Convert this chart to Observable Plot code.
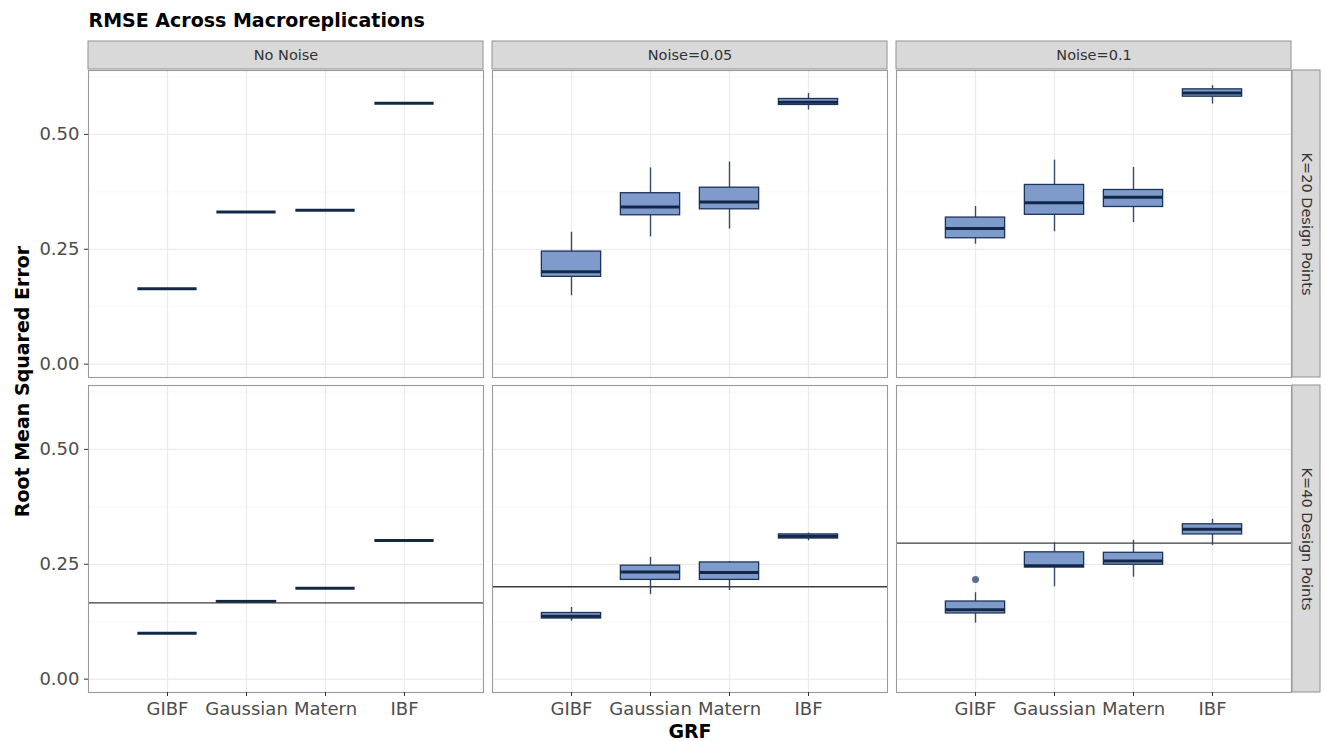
<!DOCTYPE html>
<html>
<head>
<meta charset="utf-8">
<script src="https://cdn.jsdelivr.net/npm/d3@7"></script>
<script src="https://cdn.jsdelivr.net/npm/@observablehq/plot@0.6"></script>
<style>
  html, body { margin: 0; padding: 0; background: #fff; overflow: hidden; }
</style>
</head>
<body>
<div id="chart"></div>
<script>
// ---- data ----
const title = "RMSE Across Macroreplications";
const yTitle = "Root Mean Squared Error";
const xTitle = "GRF";
const noises = ["No Noise", "Noise=0.05", "Noise=0.1"];
const designs = ["K=20 Design Points", "K=40 Design Points"];
const methods = ["GIBF", "Gaussian", "Matern", "IBF"];
const yTicks = [0, 0.25, 0.5];
const yMinor = [0.125, 0.375, 0.625];

// order: design -> noise -> method
const whiskerLow = [
  0.164, 0.331, 0.335, 0.568,   0.149, 0.277, 0.294, 0.553,   0.261, 0.288, 0.308, 0.566,
  0.100, 0.168, 0.198, 0.302,   0.126, 0.184, 0.193, 0.301,   0.122, 0.201, 0.222, 0.291
];
const q1 = [
  0.164, 0.331, 0.335, 0.568,   0.190, 0.324, 0.337, 0.564,   0.274, 0.325, 0.342, 0.582,
  0.100, 0.168, 0.198, 0.302,   0.132, 0.216, 0.216, 0.306,   0.143, 0.243, 0.249, 0.315
];
const median = [
  0.164, 0.331, 0.335, 0.568,   0.201, 0.342, 0.353, 0.570,   0.295, 0.351, 0.363, 0.590,
  0.100, 0.169, 0.198, 0.302,   0.137, 0.233, 0.232, 0.311,   0.151, 0.247, 0.257, 0.326
];
const q3 = [
  0.164, 0.331, 0.335, 0.568,   0.245, 0.372, 0.384, 0.577,   0.319, 0.390, 0.379, 0.598,
  0.100, 0.170, 0.198, 0.302,   0.144, 0.247, 0.254, 0.315,   0.169, 0.276, 0.275, 0.337
];
const whiskerHigh = [
  0.164, 0.331, 0.335, 0.568,   0.287, 0.427, 0.440, 0.589,   0.343, 0.444, 0.428, 0.606,
  0.100, 0.170, 0.198, 0.302,   0.156, 0.265, 0.256, 0.318,   0.188, 0.297, 0.302, 0.348
];
// outliers
const outlierDesign = ["K=40 Design Points"];
const outlierNoise = ["Noise=0.1"];
const outlierMethod = ["GIBF"];
const outlierValue = [0.217];
// reference lines (K=40 row)
const refDesign = ["K=40 Design Points", "K=40 Design Points", "K=40 Design Points"];
const refNoise = ["No Noise", "Noise=0.05", "Noise=0.1"];
const refValue = [0.166, 0.201, 0.296];

// ---- build tables ----
const rows = [];
let idx = 0;
designs.forEach(k => noises.forEach(n => methods.forEach((m, j) => {
  rows.push({k, n, m, pos: j + 1, lo: whiskerLow[idx], q1: q1[idx], med: median[idx], q3: q3[idx], hi: whiskerHigh[idx]});
  idx++;
})));
const outliers = outlierValue.map((v, i) => ({k: outlierDesign[i], n: outlierNoise[i], pos: methods.indexOf(outlierMethod[i]) + 1, v}));
const refs = refValue.map((v, i) => ({k: refDesign[i], n: refNoise[i], v}));

const yMin = -0.029, yMax = 0.639;
const half = 0.375;
const boxFill = "#7e9bcb", boxStroke = "#1c3459", medStroke = "#132848", whiskStroke = "#354a6c";
const font = "DejaVu Sans";

const plot = Plot.plot({
  width: 1325,
  height: 741,
  marginTop: 69,
  marginBottom: 49,
  marginLeft: 87,
  marginRight: 34,
  style: {fontFamily: font, background: "#fff", color: "#4d4d4d"},
  fx: {domain: noises, paddingInner: 0.0223, paddingOuter: 0, axis: null, label: null},
  fy: {domain: designs, paddingInner: 0.0254, paddingOuter: 0, axis: null, label: null},
  x: {domain: [0, 5], label: null},
  y: {domain: [yMin, yMax], label: null},
  marks: [
    // grid
    Plot.gridY(yMinor, {stroke: "#f2f2f2", strokeOpacity: 1, strokeWidth: 0.7}),
    Plot.gridY(yTicks, {stroke: "#ebebeb", strokeOpacity: 1, strokeWidth: 1.2}),
    Plot.gridX([1, 2, 3, 4], {stroke: "#ebebeb", strokeOpacity: 1, strokeWidth: 1.2}),
    // whiskers
    Plot.ruleX(rows.filter(d => d.hi > d.q3), {fx: "n", fy: "k", x: "pos", y1: "q3", y2: "hi", stroke: whiskStroke, strokeWidth: 1.4}),
    Plot.ruleX(rows.filter(d => d.q1 > d.lo), {fx: "n", fy: "k", x: "pos", y1: "lo", y2: "q1", stroke: whiskStroke, strokeWidth: 1.4}),
    // boxes
    Plot.rect(rows.filter(d => d.q3 > d.q1), {fx: "n", fy: "k", x1: d => d.pos - half, x2: d => d.pos + half, y1: "q1", y2: "q3", fill: boxFill, stroke: boxStroke, strokeWidth: 1.3}),
    // medians
    Plot.ruleY(rows, {fx: "n", fy: "k", y: "med", x1: d => d.pos - half, x2: d => d.pos + half, stroke: medStroke, strokeWidth: 3}),
    // outliers
    Plot.dot(outliers, {fx: "n", fy: "k", x: "pos", y: "v", r: 3.5, fill: "#5b6e8e", stroke: "none"}),
    // reference lines
    Plot.ruleY(refs, {fx: "n", fy: "k", y: "v", stroke: "#3c3c3c", strokeWidth: 1.4}),
    // panel border
    Plot.frame({stroke: "#9a9a9a", strokeWidth: 1.1}),
    // top strips
    Plot.rect(noises, {fx: d => d, fy: () => designs[0], x1: 0, x2: 5, y1: yMax, y2: yMax, insetTop: -29, insetBottom: 1, fill: "#d9d9d9", stroke: "#9a9a9a", strokeWidth: 1.1}),
    Plot.text(noises, {fx: d => d, fy: () => designs[0], x: 2.5, y: yMax, dy: -15, text: d => d, fontSize: 14.5, fill: "#333"}),
    // right strips
    Plot.rect(designs, {fx: () => noises[2], fy: d => d, x1: 5, x2: 5, y1: yMin, y2: yMax, insetLeft: 1, insetRight: -29, fill: "#d9d9d9", stroke: "#9a9a9a", strokeWidth: 1.1}),
    Plot.text(designs, {fx: () => noises[2], fy: d => d, x: 5, y: (yMin + yMax) / 2, dx: 15, rotate: 90, text: d => d, fontSize: 14.5, fill: "#333"}),
    // axes
    Plot.axisY({ticks: yTicks, tickFormat: d3.format(".2f"), tickSize: 4, tickPadding: 5, fontSize: 18, fill: "#4d4d4d", stroke: "#333", label: null}),
    Plot.axisX({ticks: [1, 2, 3, 4], tickFormat: d => methods[d - 1], tickSize: 4, tickPadding: 6, fontSize: 18, fill: "#4d4d4d", stroke: "#333", label: null}),
    // titles
    Plot.text([title], {fx: () => noises[0], fy: () => designs[0], x: 0, y: yMax, dy: -50, text: d => d, textAnchor: "start", fontWeight: "bold", fontSize: 19, fill: "#000"}),
    Plot.text([yTitle], {fx: () => noises[0], fy: () => designs[0], x: 0, y: yMin, dx: -66, dy: 4, rotate: -90, text: d => d, fontWeight: "bold", fontSize: 19, fill: "#000"}),
    Plot.text([xTitle], {fx: () => noises[1], fy: () => designs[1], x: 2.5, y: yMin, dy: 39, text: d => d, fontWeight: "bold", fontSize: 19, fill: "#000"})
  ]
});
document.getElementById("chart").appendChild(plot);
</script>
</body>
</html>
